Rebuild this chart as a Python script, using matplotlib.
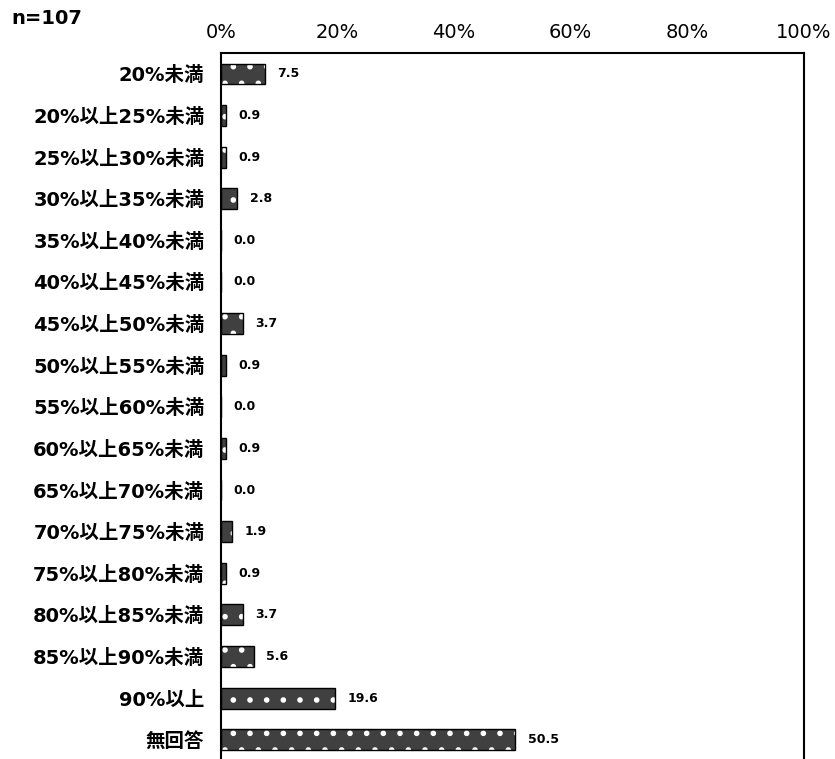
import matplotlib
matplotlib.use("Agg")
from matplotlib import pyplot as plt

plt.rcParams['font.family'] = ['DejaVu Sans', 'Noto Sans CJK JP']
plt.rcParams['hatch.linewidth'] = 1.6

categories = ["20%未満", "20%以上25%未満", "25%以上30%未満", "30%以上35%未満",
              "35%以上40%未満", "40%以上45%未満", "45%以上50%未満", "50%以上55%未満",
              "55%以上60%未満", "60%以上65%未満", "65%以上70%未満", "70%以上75%未満",
              "75%以上80%未満", "80%以上85%未満", "85%以上90%未満", "90%以上", "無回答"]
values = [7.5, 0.9, 0.9, 2.8, 0.0, 0.0, 3.7, 0.9, 0.0, 0.9, 0.0, 1.9, 0.9, 3.7, 5.6, 19.6, 50.5]
xticks = [0, 20, 40, 60, 80, 100]

fig = plt.figure(figsize=(8.35, 7.59), dpi=100)
ax = fig.add_axes([0.2647, -0.002, 0.698, 0.932])

pos = list(range(len(categories)))
# fill with white dots, then black outline on top
ax.barh(pos, values, height=0.5, color="#404040", edgecolor="white",
        hatch=".", linewidth=0)
ax.barh(pos, values, height=0.5, color="none", edgecolor="black", linewidth=1)

for y, v in zip(pos, values):
    ax.annotate(f"{v:.1f}", (v, y), xytext=(9, 0), textcoords="offset points",
                ha="left", va="center", fontsize=9, fontweight="bold")

ax.set_xlim(0, 100)
ax.set_ylim(len(categories) - 0.5, -0.5)
ax.xaxis.tick_top()
ax.set_xticks(xticks)
ax.set_xticklabels([f"{t}%" for t in xticks], fontsize=14)
ax.tick_params(axis="x", length=0, pad=8)
ax.set_yticks(pos)
ax.set_yticklabels(categories, fontsize=14, fontweight="bold")
ax.tick_params(axis="y", length=0, pad=12)

for s in ["left", "right", "top"]:
    ax.spines[s].set_linewidth(1.5)
ax.spines["bottom"].set_visible(False)

fig.text(0.014, 0.975, "n=107", fontsize=14, fontweight="bold", va="center", ha="left")

fig.savefig("out.png", dpi=100)
